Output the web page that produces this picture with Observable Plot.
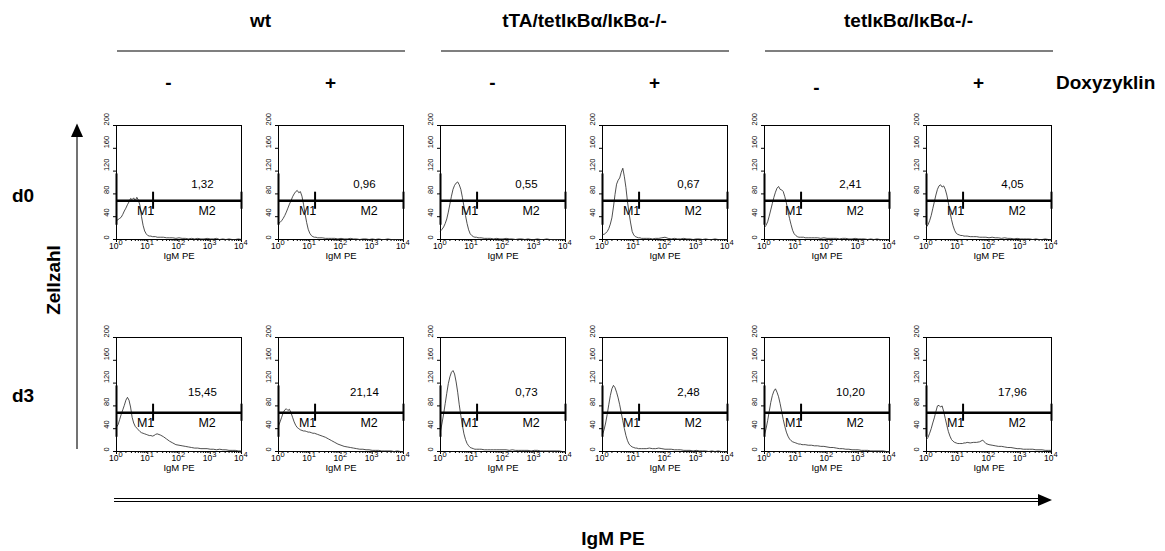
<!DOCTYPE html>
<html><head><meta charset="utf-8">
<script src="https://cdn.jsdelivr.net/npm/d3@7"></script>
<script src="https://cdn.jsdelivr.net/npm/@observablehq/plot@0.6"></script>
<style>body{margin:0;background:#fff}</style>
</head><body><div id="chart"></div>
<script>
// ---- categories / labels ----
const groups = ["wt", "tTA/tetIκBα/IκBα-/-", "tetIκBα/IκBα-/-"];
const doxy = ["-", "+", "-", "+", "-", "+"];
const days = ["d0", "d3"];
const cols = [0, 1, 2, 3, 4, 5];
const rows = [0, 1];
const pctD0 = ["1,32", "0,96", "0,55", "0,67", "2,41", "4,05"];
const pctD3 = ["15,45", "21,14", "0,73", "2,48", "10,20", "17,96"];
const yTicks = [0, 40, 80, 120, 160, 200];
const xMajor = [1, 10, 100, 1000, 10000];
const xExpLabels = ["0", "1", "2", "3", "4"];
const xMinor = [2,3,4,5,6,7,8,9,20,30,40,50,60,70,80,90,200,300,400,500,600,700,800,900,2000,3000,4000,5000,6000,7000,8000,9000];
// gate markers (data units)
const gateY = 68, gateSplit = 14.8, gateMax = 10000;

// ---- histogram bins: log10 of IgM PE channel ----
const exps = [0,0.05,0.1,0.15,0.2,0.25,0.3,0.35,0.4,0.45,0.5,0.55,0.6,0.65,0.7,0.75,0.8,0.85,0.9,0.95,1,1.05,1.1,1.15,1.2,1.25,1.3,1.4,1.5,1.6,1.7,1.8,1.9,2,2.1,2.2,2.3,2.4,2.5,2.6,2.7,2.8,2.9,3,3.1,3.2,3.3,3.4,3.5,3.6,3.7,3.8,3.9,4];

// ---- cell counts per panel ----
const d0_wt_minus = [33,35,37,39,44,50,55,61,66,72, 70,73,68,74,69,60,40,25,15,10, 7,6,6,5,5,5,4, 4,4,3,3,3,2,3,2,2,1, 2,1,2,1,1,2,1,1,2,0, 1,0,1,0,0,1,0];
const d0_wt_plus = [28,30,33,37,42,48,55,62,68,75, 80,84,86,82,84,76,62,45,30,18, 11,7,5,4,4,3,3, 3,2,2,2,2,1,2,1,1,2, 1,1,0,1,1,0,1,0,1,0, 0,1,0,0,0,0,0];
const d0_tta_minus = [15,18,22,28,36,48,62,76,88,95, 99,101,96,88,74,58,42,28,17,10, 7,5,4,4,3,3,3, 2,2,2,1,2,1,1,2,1,1, 0,1,1,0,1,0,0,1,0,0, 1,0,0,0,0,0,0];
const d0_tta_plus = [9,9,11,14,19,27,38,57,79,97, 104,108,118,125,110,91,66,46,29,14, 8,5,4,3,3,2,2, 2,2,1,2,2,3,4,2,1,2, 1,1,2,1,1,0,1,1,0,1, 0,0,1,0,0,0,0];
const d0_tet_minus = [21,25,31,41,52,63,74,83,90,93, 88,87,84,75,64,50,37,26,16,10, 7,5,4,4,4,4,3, 3,3,3,3,2,3,2,2,2,2, 1,2,2,1,1,2,1,1,1,0, 1,0,1,0,0,0,0];
const d0_tet_plus = [22,26,33,42,54,66,78,88,94,96, 92,94,88,78,64,48,35,24,16,11, 9,8,7,7,6,6,6, 5,5,5,4,4,4,3,4,3,3, 2,3,2,2,1,2,1,1,1,1, 0,1,0,0,1,0,0];
const d3_wt_minus = [43,47,56,65,73,81,90,95,90,78, 60,50,44,41,38,35,33,32,31,30, 29,28,28,27,28,30,31, 29,26,22,18,15,12,11,10,9,8, 7,6,6,5,5,5,4,4,3,4, 3,3,2,2,2,1,1];
const d3_wt_plus = [45,52,60,68,73,75,72,74,68,60, 52,46,42,40,38,37,36,36,35,34, 34,33,32,32,31,30,29, 27,25,22,19,16,13,11,9,8,7, 6,5,4,4,3,3,2,2,2,1, 1,1,1,0,1,0,0];
const d3_tta_minus = [36,50,66,84,102,119,131,139,142,136, 122,104,82,63,46,31,21,14,10,7, 6,5,4,4,4,4,4, 3,3,3,3,3,3,3,3,2,3, 2,2,2,2,2,1,2,2,1,1, 1,1,1,1,1,0,0];
const d3_tta_plus = [30,38,50,65,82,98,110,116,112,104, 94,82,68,54,40,28,19,13,10,8, 7,6,6,5,5,5,5, 5,6,5,5,6,5,4,4,4,3, 3,3,2,2,2,1,2,1,1,1, 0,1,0,1,0,0,0];
const d3_tet_minus = [30,40,54,70,86,98,106,110,104,96, 84,70,56,44,34,27,22,19,17,16, 15,14,13,13,12,12,12, 11,11,10,10,9,9,8,7,7,6, 5,5,4,4,3,3,3,2,2,2, 1,1,1,1,1,0,0];
const d3_tet_plus = [21,25,32,40,50,59,70,80,81,78, 80,70,58,46,35,27,21,18,16,15, 14,14,14,14,15,15,16, 15,16,16,17,20,14,12,11,10,9, 9,8,7,7,6,5,5,4,4,4, 4,3,3,3,2,2,2];

const panels = [
  [d0_wt_minus, d0_wt_plus, d0_tta_minus, d0_tta_plus, d0_tet_minus, d0_tet_plus],
  [d3_wt_minus, d3_wt_plus, d3_tta_minus, d3_tta_plus, d3_tet_minus, d3_tet_plus]
];
const pcts = [pctD0, pctD3];

const hist = [];
panels.forEach((rowArr, r) => rowArr.forEach((counts, c) => counts.forEach((v, i) => hist.push({row: r, col: c, x: 10 ** exps[i], y: v}))));

const pctPos = {x: 10 ** 2.75, y: [96, 103]};
const pctData = [];
pcts.forEach((arr, r) => arr.forEach((t, c) => pctData.push({row: r, col: c, text: t, x: pctPos.x, y: pctPos.y[r]})));

const font = "Liberation Sans, Arial, Helvetica, sans-serif";
const noLabel = () => "";

const chart = Plot.plot({
  width: 1165, height: 551,
  marginLeft: 115, marginRight: 114, marginTop: 124, marginBottom: 99,
  style: {fontFamily: font, fontSize: "10px", background: "white", overflow: "visible"},
  fx: {domain: cols, paddingInner: 0.2293, paddingOuter: 0, axis: null},
  fy: {domain: rows, paddingInner: 0.46, paddingOuter: 0, axis: null},
  x: {type: "log", domain: [1, 10000], axis: null},
  y: {domain: [0, 200], axis: null},
  marks: [
    Plot.frame({stroke: "black", strokeWidth: 1}),
    Plot.axisX({ticks: xMajor, tickSize: 3, tickFormat: noLabel, facetAnchor: null, label: null}),
    Plot.axisX({ticks: xMinor, tickSize: 2, tickFormat: noLabel, facetAnchor: null, label: null}),
    Plot.axisY({ticks: yTicks, tickSize: 3, tickFormat: noLabel, facetAnchor: null, label: null}),
    Plot.text(yTicks, {y: d => d, frameAnchor: "left", dx: -10, rotate: -90, text: d => String(d), fontSize: 7.5}),
    Plot.text(xMajor, {x: d => d, frameAnchor: "bottom", dy: 9.5, dx: 2, textAnchor: "end", text: () => "10", fontSize: 8.5}),
    Plot.text(xMajor, {x: d => d, frameAnchor: "bottom", dy: 5, dx: 2, textAnchor: "start", text: (d, i) => xExpLabels[i], fontSize: 7.5}),
    Plot.text(["IgM PE"], {frameAnchor: "bottom", dy: 19, text: d => d, fontSize: 9.5}),
    Plot.line(hist, {x: "x", y: "y", fx: "col", fy: "row", stroke: "#222", strokeWidth: 0.8}),
    Plot.ruleY([gateY], {x1: 1, x2: gateMax, stroke: "black", strokeWidth: 2.6}),
    Plot.ruleX([gateSplit, gateMax], {y1: gateY - 15, y2: gateY + 15, stroke: "black", strokeWidth: 2}),
    Plot.ruleX([1], {y1: 25, y2: 115, stroke: "black", strokeWidth: 2}),
    Plot.text(["M1"], {x: 10 ** 0.93, y: 50, text: d => d, fontSize: 12.5}),
    Plot.text(["M2"], {x: 10 ** 2.9, y: 50, text: d => d, fontSize: 12.5}),
    Plot.text(pctData, {x: "x", y: "y", fx: "col", fy: "row", text: "text", fontSize: 11.5})
  ]
});

document.getElementById("chart").appendChild(chart);

// ---- figure annotations positioned from the facet scales ----
const sfx = chart.scale("fx"), sfy = chart.scale("fy");
const bw = sfx.bandwidth, bh = sfy.bandwidth;
const svg = d3.select(chart);
const g = svg.append("g").attr("font-family", font).attr("fill", "black").attr("text-anchor", "start");

groups.forEach((name, k) => {
  const x0 = sfx.apply(cols[2 * k]), x1 = sfx.apply(cols[2 * k + 1]) + bw;
  g.append("text").attr("x", (x0 + x1) / 2 + 1).attr("y", 27).attr("text-anchor", "middle")
    .attr("font-weight", "bold").attr("font-size", 19).text(name);
  g.append("line").attr("x1", x0 + 1).attr("x2", x1 + 2).attr("y1", 51).attr("y2", 51)
    .attr("stroke", "black").attr("stroke-width", 1.2);
});
doxy.forEach((s, c) => {
  g.append("text").attr("x", sfx.apply(cols[c]) + bw / 2 - 10).attr("y", c === 4 ? 94 : 89)
    .attr("text-anchor", "middle").attr("font-weight", "bold").attr("font-size", 19).text(s);
});
g.append("text").attr("x", sfx.apply(cols[5]) + bw + 5).attr("y", 89).attr("text-anchor", "start")
  .attr("font-weight", "bold").attr("font-size", 19).text("Doxyzyklin");
days.forEach((d, r) => {
  g.append("text").attr("x", 12).attr("y", r === 0 ? 202 : 402).attr("text-anchor", "start")
    .attr("font-weight", "bold").attr("font-size", 19).text(d);
});
g.append("text").attr("transform", "translate(60,280) rotate(-90)").attr("text-anchor", "middle")
  .attr("font-weight", "bold").attr("font-size", 19).text("Zellzahl");
// vertical arrow
const top0 = sfy.apply(rows[0]), bot1 = sfy.apply(rows[1]) + bh;
g.append("line").attr("x1", 77).attr("x2", 77).attr("y1", bot1 - 2).attr("y2", top0 + 10)
  .attr("stroke", "#444").attr("stroke-width", 1.5);
g.append("path").attr("d", `M77,${top0 - 1.5}L71,${top0 + 12}L83,${top0 + 12}Z`).attr("fill", "black");
// horizontal double arrow
const xl = sfx.apply(cols[0]) - 2, xr = sfx.apply(cols[5]) + bw + 1;
[498.5, 501.5].forEach(yy => g.append("line").attr("x1", xl).attr("x2", xr - 10).attr("y1", yy).attr("y2", yy)
  .attr("stroke", "black").attr("stroke-width", 1));
g.append("path").attr("d", `M${xr},500L${xr - 14},494L${xr - 14},506Z`).attr("fill", "black");
g.append("text").attr("x", 613).attr("y", 545).attr("text-anchor", "middle")
  .attr("font-weight", "bold").attr("font-size", 19).text("IgM PE");
</script>
</body></html>
